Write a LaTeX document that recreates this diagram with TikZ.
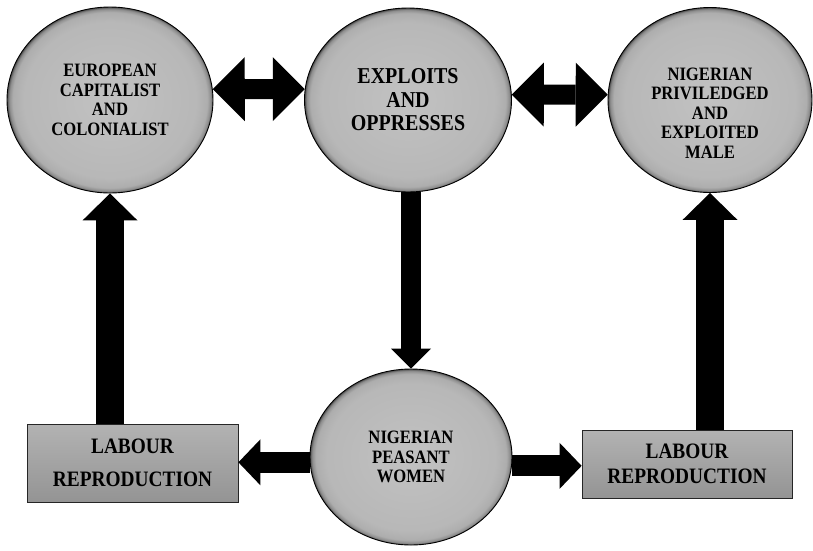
\documentclass[tikz,border=0pt]{standalone}
\usepackage{fontspec}
\setmainfont{Liberation Serif}[FakeStretch=0.88]
\usetikzlibrary{shapes.geometric,arrows.meta,calc}
\pgfdeclareradialshading{ballshade}{\pgfpoint{0bp}{0bp}}{color(0bp)=(black!24); color(21bp)=(black!28); color(23.6bp)=(black!32); color(24.5bp)=(black!45); color(25bp)=(black!70); color(50bp)=(black!70)}
\newcommand{\ballfont}{\fontsize{18.9}{19.5}\selectfont\bfseries}
\newcommand{\bigballfont}{\fontsize{22.7}{23.5}\selectfont\bfseries}
\tikzstyle{ball}=[ellipse, draw=black, line width=0.9pt, shading=ballshade, inner sep=0pt, align=center, font=\ballfont]
\tikzstyle{balltext}=[align=center, font=\ballfont]
\tikzstyle{labourbox}=[rectangle, draw=black!85, line width=0.8pt, top color=black!30, bottom color=black!42, inner sep=0pt, align=center]
\tikzstyle{twoway}=[line width=20pt, {Triangle[length=32pt,width=64pt,line width=0pt]}-{Triangle[length=32pt,width=64pt,line width=0pt]}]
\tikzstyle{downarrow}=[line width=20pt, -{Triangle[length=20pt,width=40pt,line width=0pt]}]
\tikzstyle{uparrow}=[line width=28pt, -{Triangle[length=27pt,width=55pt,line width=0pt]}]
\tikzstyle{sidearrow}=[line width=21pt, -{Triangle[length=22pt,width=46pt,line width=0pt]}]
\begin{document}
\begin{tikzpicture}[x=1pt,y=-1pt]
		\useasboundingbox (0,0) rectangle (813,550);
		\node[ball, minimum width=206pt, minimum height=186pt](eur)at(110,100){EUROPEAN\\CAPITALIST\\AND\\COLONIALIST};
		\node[ball, minimum width=207pt, minimum height=184pt, font=\bigballfont](expl)at(408,100){EXPLOITS\\AND\\OPPRESSES};
		\node[ball, minimum width=204pt, minimum height=185pt](male)at(710,100){};
		\node[balltext](maletext)at(710,113){NIGERIAN\\PRIVILEDGED\\AND\\EXPLOITED\\MALE};
		\node[ball, minimum width=202pt, minimum height=176pt](wom)at(411,457){NIGERIAN\\PEASANT\\WOMEN};
		\node[labourbox, minimum width=211pt, minimum height=78pt, font=\fontsize{22}{33}\selectfont\bfseries](lab1)at(132.5,463){LABOUR\\REPRODUCTION};
		\node[labourbox, minimum width=210pt, minimum height=68pt, font=\fontsize{22}{25}\selectfont\bfseries](lab2)at(687,464){LABOUR\\REPRODUCTION};
		\draw[twoway](eur.6)--(expl.174);
		\draw[twoway](expl.3)--(male.177);
		\draw[downarrow](expl.south -| wom.north)--(wom.north);
		\draw[uparrow](lab1.north -| eur.south)--(eur.south);
		\draw[uparrow](lab2.north -| male.south)--(male.south);
		\draw[sidearrow](wom.183)--(wom.183 -| lab1.east);
		\draw[sidearrow](wom.355)--(wom.355 -| lab2.west);
\end{tikzpicture}
\end{document}
